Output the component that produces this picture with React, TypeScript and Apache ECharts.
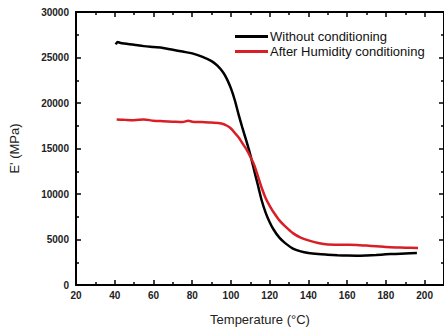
import React, { useEffect, useRef } from "react";
import * as echarts from "echarts";

const tempBlack = [40.5, 41.5, 43, 50, 55, 60, 65, 70, 75, 80, 85, 90, 93, 96, 98, 100, 102, 104, 106, 108, 110, 112, 114, 116, 118, 120, 122, 125, 128, 132, 136, 140, 145, 150, 155, 160, 165, 170, 175, 180, 185, 190, 196];
const modBlack = [26450, 26700, 26600, 26400, 26250, 26150, 26050, 25850, 25650, 25450, 25100, 24600, 24100, 23350, 22600, 21600, 20300, 18700, 17200, 15800, 14300, 12600, 10900, 9200, 7900, 6900, 6100, 5200, 4600, 4000, 3700, 3520, 3400, 3330, 3270, 3230, 3220, 3250, 3300, 3370, 3420, 3470, 3520];

const tempRed = [41, 45, 50, 55, 60, 65, 70, 75, 78, 80, 85, 90, 95, 98, 100, 102, 104, 106, 108, 110, 112, 114, 116, 118, 120, 122, 125, 128, 132, 136, 140, 145, 150, 155, 160, 165, 170, 175, 180, 185, 190, 196.6];
const modRed = [18200, 18150, 18100, 18200, 18050, 18000, 17950, 17900, 18050, 17950, 17900, 17850, 17750, 17500, 17200, 16700, 16200, 15550, 14900, 14100, 13200, 11900, 10600, 9500, 8700, 8000, 7100, 6450, 5700, 5200, 4900, 4620, 4450, 4430, 4420, 4400, 4330, 4260, 4180, 4130, 4100, 4070];

const seriesNames = ["Without conditioning", "After Humidity conditioning"];

export default function App() {
  const ref = useRef<HTMLDivElement>(null);
  useEffect(() => {
    if (!ref.current) return;
    const chart = echarts.init(ref.current, undefined, { renderer: "svg" });
    const labelStyle = { fontFamily: "Liberation Sans, Arial, sans-serif", fontWeight: "bold" as const, fontSize: 10, color: "#222", formatter: (v: number) => String(v) };
    const axisLine = { show: true, onZero: false, lineStyle: { color: "#000", width: 2 } };
    const tick = { show: true, inside: true, length: 5, lineStyle: { color: "#000", width: 1.5 } };
    const minor = { show: true, splitNumber: 2, length: 3, lineStyle: { color: "#000", width: 1.5 } };
    chart.setOption({
      animation: false,
      grid: { left: 76, right: -2, top: 12, bottom: 49, containLabel: false },
      legend: {
        orient: "vertical",
        left: 230,
        top: 25,
        icon: "rect",
        itemWidth: 33,
        itemHeight: 3,
        itemGap: 2,
        textStyle: { fontFamily: "Liberation Sans, Arial, sans-serif", fontSize: 13, color: "#111", padding: [0, 0, 0, -3] },
        data: seriesNames,
      },
      xAxis: [
        {
          type: "value", min: 20, max: 210, interval: 20, position: "bottom",
          axisLine, axisTick: tick, minorTick: minor, splitLine: { show: false },
          axisLabel: { ...labelStyle, margin: 5, showMaxLabel: false },
          name: "Temperature (°C)", nameLocation: "middle", nameGap: 28,
          nameTextStyle: { fontFamily: "Liberation Sans, Arial, sans-serif", fontSize: 13, color: "#222" },
        },
        {
          type: "value", min: 20, max: 210, interval: 20, position: "top",
          axisLine, axisTick: tick, minorTick: minor, splitLine: { show: false },
          axisLabel: { show: false },
        },
      ],
      yAxis: [
        {
          type: "value", min: 0, max: 30000, interval: 5000, position: "left",
          axisLine, axisTick: tick, minorTick: minor, splitLine: { show: false },
          axisLabel: { ...labelStyle, margin: 7 },
          name: "E' (MPa)", nameLocation: "middle", nameGap: 55, nameRotate: 90,
          nameTextStyle: { fontFamily: "Liberation Sans, Arial, sans-serif", fontSize: 13, color: "#222" },
        },
        {
          type: "value", min: 0, max: 30000, interval: 5000, position: "right",
          axisLine, axisTick: tick, minorTick: minor, splitLine: { show: false },
          axisLabel: { show: false },
        },
      ],
      series: [
        {
          name: seriesNames[0], type: "line", smooth: 0.3, showSymbol: false, symbol: "none",
          xAxisIndex: 0, yAxisIndex: 0,
          lineStyle: { color: "#000", width: 2.5 }, itemStyle: { color: "#000" },
          data: tempBlack.map((t, i) => [t, modBlack[i]]),
        },
        {
          name: seriesNames[1], type: "line", smooth: 0.3, showSymbol: false, symbol: "none",
          xAxisIndex: 0, yAxisIndex: 0,
          lineStyle: { color: "#d91f26", width: 2.5 }, itemStyle: { color: "#d91f26" },
          data: tempRed.map((t, i) => [t, modRed[i]]),
        },
      ],
    });
    return () => chart.dispose();
  }, []);
  return <div ref={ref} style={{ width: 444, height: 334, position: "absolute", left: 0, top: 0, background: "#fff" }} />;
}
